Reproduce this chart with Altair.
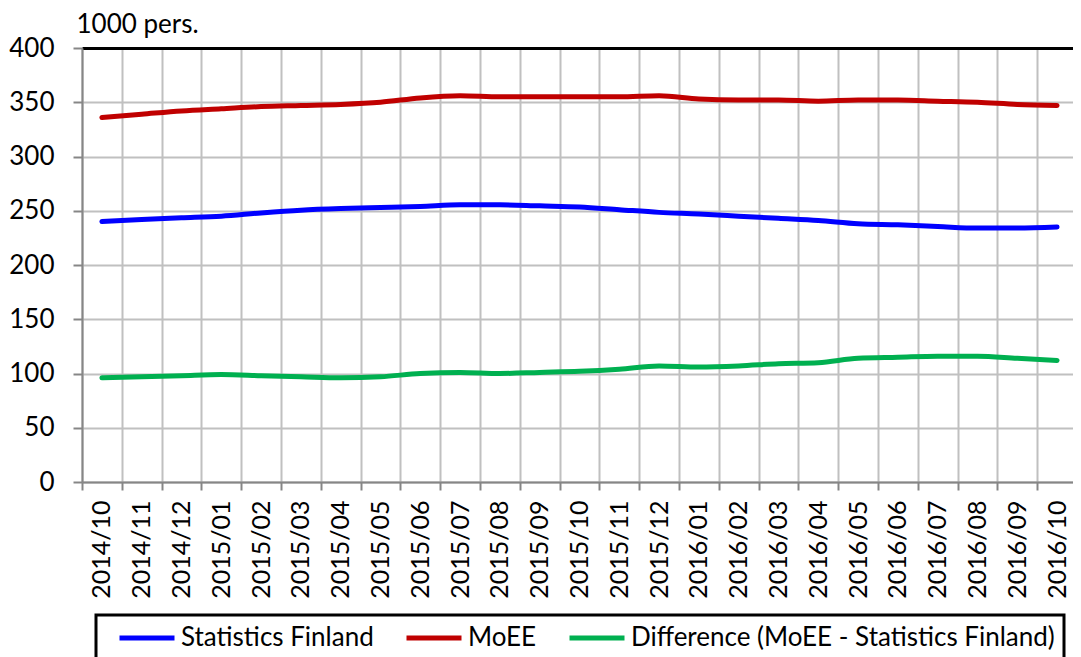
import altair as alt
import pandas as pd

months = ["2014/10", "2014/11", "2014/12", "2015/01", "2015/02", "2015/03", "2015/04",
          "2015/05", "2015/06", "2015/07", "2015/08", "2015/09", "2015/10", "2015/11",
          "2015/12", "2016/01", "2016/02", "2016/03", "2016/04", "2016/05", "2016/06",
          "2016/07", "2016/08", "2016/09", "2016/10"]

stat_finland = [240, 242, 243.5, 245, 248, 250.5, 252, 253, 254, 255.5, 255.5, 254.5, 253.5,
                251, 248.5, 247, 245, 243, 241, 238, 237, 235.5, 234, 234, 235]
moee = [336, 339, 342, 344, 346, 347, 348, 350, 354, 356, 355, 355, 355,
        355, 356, 353, 352, 352, 351, 352, 352, 351, 350, 348, 347]
difference = [96, 97, 98, 99, 98, 97, 96, 97, 100, 101, 100, 101, 102,
              104, 107, 106, 107, 109, 110, 114, 115, 116, 116, 114, 112]

series_names = ["Statistics Finland", "MoEE", "Difference (MoEE - Statistics Finland)"]
series_colors = ["#0000FF", "#C00000", "#00B050"]

rows = []
for name, vals in zip(series_names, [stat_finland, moee, difference]):
    for i, (m, v) in enumerate(zip(months, vals)):
        rows.append({"month": m, "idx": i, "series": name, "value": v})
df = pd.DataFrame(rows)

FONT = "Lato"
GRID = "#c0c0c0"
AXIS = "#868686"

# category boundaries (ticks + vertical grid), labels centred in each category
boundaries = [i - 0.5 for i in range(len(months))]
month_array = "[" + ",".join("'" + m + "'" for m in months) + "]"

chart = alt.Chart(df).mark_line(
    interpolate="monotone", strokeWidth=5, strokeCap="round"
).encode(
    x=alt.X("idx:Q",
            scale=alt.Scale(domain=[-0.5, 24.4], nice=False, zero=False),
            axis=alt.Axis(values=boundaries, grid=True, gridColor=GRID, gridWidth=2,
                          domainColor=AXIS, domainWidth=2, tickColor=AXIS, tickWidth=2,
                          tickSize=8, labelAngle=270, labelFont=FONT, labelFontSize=25,
                          labelColor="black", labelPadding=10, labelOverlap=False,
                          labelBound=False, labelFlush=False, labelOffset=19.9,
                          labelExpr=month_array + "[datum.value + 0.5]", title=None)),
    y=alt.Y("value:Q",
            scale=alt.Scale(domain=[0, 400], nice=False, zero=True),
            axis=alt.Axis(values=[0, 50, 100, 150, 200, 250, 300, 350, 400], grid=True,
                          gridColor={"condition": {"test": "datum.value === 400", "value": "black"}, "value": GRID},
                          gridWidth={"condition": {"test": "datum.value === 400", "value": 3}, "value": 2},
                          domainColor=AXIS, domainWidth=2, tickColor=AXIS, tickWidth=2,
                          tickSize=9, labelFont=FONT, labelFontSize=26, labelColor="black",
                          labelPadding=19, title="1000 pers.", titleAngle=0, titleX=-6,
                          titleY=-16, titleAlign="left", titleBaseline="alphabetic",
                          titleFont=FONT, titleFontSize=26, titleFontWeight="normal",
                          titleColor="black")),
    color=alt.Color("series:N",
                    scale=alt.Scale(domain=series_names, range=series_colors),
                    legend=alt.Legend(orient="none", legendX=14, legendY=567,
                                      direction="horizontal", symbolType="stroke",
                                      symbolSize=3025, symbolStrokeWidth=5,
                                      labelFont=FONT, labelFontSize=26, labelColor="black",
                                      labelOffset=4, labelLimit=2000, columnPadding=30,
                                      padding=9, strokeColor="black", fillColor="white",
                                      clipHeight=28, title=" ", titleOrient="left",
                                      titlePadding=12, titleFontSize=25)),
    detail="series:N",
    order="idx:Q",
).properties(
    width=991, height=434,
    autosize=alt.AutoSizeParams(type="none"),
    padding={"left": 74, "top": 40, "right": 0, "bottom": 175},
).configure_view(stroke=None).configure_legend(strokeWidth=3)

chart.save("out.html", embed_options={"renderer": "svg", "actions": False})
